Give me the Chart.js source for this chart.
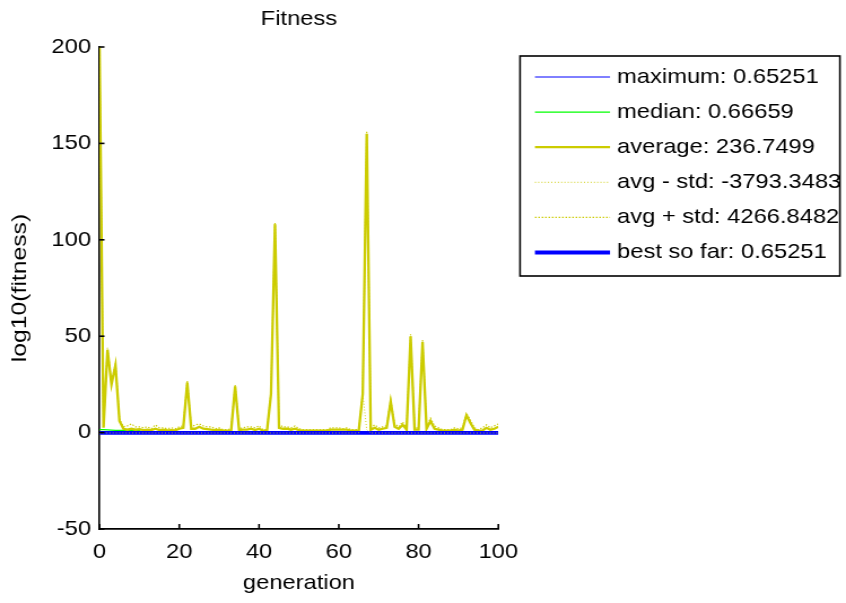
<!DOCTYPE html>
<html>
<head>
<meta charset="utf-8">
<script src="https://cdn.jsdelivr.net/npm/chart.js@4/dist/chart.umd.min.js"></script>
<style>
  html, body { margin: 0; padding: 0; background: #ffffff; }
  #wrap { width: 846px; height: 603px; overflow: hidden; position: relative; }
  #fitness { position: absolute; left: 0; top: 0; transform-origin: 0 0; }
</style>
</head>
<body>
<div id="wrap"><canvas id="fitness" width="749" height="603"></canvas></div>
<script>
// generation index (x axis)
const generations = Array.from({ length: 101 }, (_, i) => i);

// log10 of population statistics per generation
const average = [
  200, 2.5, 43, 25, 35, 6, 2, 1.5, 2, 1.5,
  1.8, 1.3, 1.5, 1.3, 2, 1.3, 1.5, 1.2, 1.3, 1.2,
  2, 2.5, 26, 2, 2, 3, 2, 1.8, 1.5, 1.3,
  1.5, 1, 1, 1, 24, 1.3, 1.5, 1.5, 2, 1.3,
  2, 1, 1, 20, 108, 2.5, 2, 2, 1.5, 2,
  1.3, 1, 1, 1, 1, 1, 1, 1, 1.5, 1.5,
  1.5, 1.5, 1.5, 1, 1, 1, 20, 155, 1.5, 2.5,
  1.5, 2, 2.5, 16, 3, 2, 4, 1.5, 50, 1.5,
  1.5, 47, 2, 6, 2, 1.5, 1, 1, 1, 1.5,
  1, 1.5, 9, 5, 1.5, 1, 1, 2.5, 1.5, 2,
  3
];

const avgPlusStd = [
  200, 3.5, 44, 26, 36, 7, 3, 3.5, 4.5, 3,
  3, 2.5, 3, 2, 4, 2.5, 2.5, 2, 2.5, 2,
  3, 3.5, 27, 3, 4, 4.5, 3.5, 3, 3, 2,
  2.5, 1.5, 1.5, 2, 25, 2, 2.5, 3, 3, 2.5,
  3.5, 1.5, 1.5, 21, 109, 4, 3, 3, 2.5, 3.5,
  2, 1.5, 1.5, 1.5, 1.5, 1.5, 1.5, 1.5, 2.5, 2.5,
  2.5, 2, 2.5, 1.5, 1.5, 1.5, 21, 156, 2.5, 4,
  2.5, 3, 3.5, 17, 4.5, 3, 5.5, 2.5, 51, 2.5,
  2.5, 48, 3, 7.5, 3.5, 2.5, 1.5, 1.5, 1.5, 2.5,
  2, 2.5, 10, 6.5, 2.5, 1.5, 2.5, 4, 2.5, 3.5,
  4.5
];

const avgMinusStd = [
  -0.2, -0.2, -0.2, -0.2, -0.2, -0.2, -0.2, -0.2, -0.2, -0.2,
  -0.2, -0.2, -0.2, -0.2, -0.2, -0.2, -0.2, -0.2, -0.2, -0.2,
  -0.2, -0.2, -0.2, -0.2, -0.2, -0.2, -0.2, -0.2, -0.2, -0.2,
  -0.2, -0.2, -0.2, -0.2, -0.2, -0.2, -0.2, -0.2, -0.2, -0.2,
  -0.2, -0.2, -0.2, -0.2, -0.2, -0.2, -0.2, -0.2, -0.2, -0.2,
  -0.2, -0.2, -0.2, -0.2, -0.2, -0.2, -0.2, -0.2, -0.2, -0.2,
  -0.2, -0.2, -0.2, -0.2, -0.2, -0.2, 20, 1.5, -0.2, -0.2,
  -0.2, -0.2, -0.2, -0.2, -0.2, -0.2, -0.2, -0.2, -0.2, -0.2,
  -0.2, -0.2, -0.2, -0.2, -0.2, -0.2, -0.2, -0.2, -0.2, -0.2,
  -0.2, -0.2, -0.2, -0.2, -0.2, -0.2, -0.2, -0.2, -0.2, -0.2,
  -0.2
];

const median = [
  1.5, 1.5, 1.4, 1.3, 1.2, 1.2, 1.1, 1.1, 1.0, 1.0,
  1.0, -0.176, -0.176, -0.176, -0.176, -0.176, -0.176, -0.176, -0.176, -0.176,
  -0.176, -0.176, -0.176, -0.176, -0.176, -0.176, -0.176, -0.176, -0.176, -0.176,
  -0.176, -0.176, -0.176, -0.176, -0.176, -0.176, -0.176, -0.176, -0.176, -0.176,
  -0.176, -0.176, -0.176, -0.176, -0.176, -0.176, -0.176, -0.176, -0.176, -0.176,
  -0.176, -0.176, -0.176, -0.176, -0.176, -0.176, -0.176, -0.176, -0.176, -0.176,
  -0.176, -0.176, -0.176, -0.176, -0.176, -0.176, -0.176, -0.176, -0.176, -0.176,
  -0.176, -0.176, -0.176, -0.176, -0.176, -0.176, -0.176, -0.176, -0.176, -0.176,
  -0.176, -0.176, -0.176, -0.176, -0.176, -0.176, -0.176, -0.176, -0.176, -0.176,
  -0.176, -0.176, -0.176, -0.176, -0.176, -0.176, -0.176, -0.176, -0.176, -0.176,
  -0.176
];

// best individual stays at fitness 0.65251 -> log10 = -0.1854
const BEST_LOG = -0.1854;
const maximum = new Array(101).fill(BEST_LOG);
const bestSoFar = new Array(101).fill(BEST_LOG);

const legendLabels = [
  'maximum: 0.65251',
  'median: 0.66659',
  'average: 236.7499',
  'avg - std: -3793.3483',
  'avg + std: 4266.8482',
  'best so far: 0.65251'
];

const xTicks = [0, 20, 40, 60, 80, 100];
const yTicks = [-50, 0, 50, 100, 150, 200];
const yAxisTitle = 'log10(fitness)';

const FONT = '"Liberation Sans", Arial, Helvetica, sans-serif';
const FS = 21;
const STRETCH = 846 / 749;   // horizontal stretch of the whole figure
document.getElementById('fitness').style.transform = 'scaleX(' + STRETCH + ')';

const YELLOW = 'rgb(204,204,0)';
const BLUE = 'rgb(0,0,255)';
const DOTS = [0.9, 2.0];
const pts = arr => arr.map((v, i) => ({ x: generations[i], y: v }));

// higher "order" is painted first (further back)
const datasets = [
  { label: legendLabels[0], data: pts(maximum), borderColor: BLUE, borderWidth: 1, order: 3 },
  { label: legendLabels[1], data: pts(median), borderColor: 'rgb(0,255,0)', borderWidth: 1.3, order: 6 },
  { label: legendLabels[2], data: pts(average), borderColor: YELLOW, borderWidth: 2.3, order: 5 },
  { label: legendLabels[3], data: pts(avgMinusStd), borderColor: YELLOW, borderWidth: 1, borderDash: DOTS, order: 1 },
  { label: legendLabels[4], data: pts(avgPlusStd), borderColor: YELLOW, borderWidth: 1.2, borderDash: [1.4, 1.6], order: 4 },
  { label: legendLabels[5], data: pts(bestSoFar), borderColor: BLUE, borderWidth: 3.8, order: 2 }
];
datasets.forEach(d => { d.pointRadius = 0; d.fill = false; d.tension = 0; });

// inward tick marks on the left and bottom axes (box off style), plus the y axis title
const axisDecor = {
  id: 'axisDecor',
  afterDraw(chart) {
    const { ctx, chartArea } = chart;
    const xs = chart.scales.x, ys = chart.scales.y;
    ctx.save();
    ctx.strokeStyle = '#000';
    ctx.lineWidth = 1.6;
    xTicks.forEach(v => {
      const px = xs.getPixelForValue(v);
      ctx.beginPath();
      ctx.moveTo(px, chartArea.bottom);
      ctx.lineTo(px, chartArea.bottom - 5);
      ctx.stroke();
    });
    yTicks.forEach(v => {
      const py = ys.getPixelForValue(v);
      ctx.beginPath();
      ctx.moveTo(chartArea.left, py);
      ctx.lineTo(chartArea.left + 4.4, py);
      ctx.stroke();
    });
    // rotated y axis title, a little wider along its run than the tick text
    ctx.translate(17.7, (chartArea.top + chartArea.bottom) / 2);
    ctx.rotate(-Math.PI / 2);
    ctx.scale(1.3, 1);
    ctx.font = '19px ' + FONT;
    ctx.fillStyle = '#000';
    ctx.textAlign = 'center';
    ctx.textBaseline = 'middle';
    ctx.fillText(yAxisTitle, 0, 0);
    ctx.restore();
  }
};

// boxed legend on the right
const boxedLegend = {
  id: 'boxedLegend',
  afterDraw(chart) {
    const { ctx } = chart;
    const left = 460.4, right = 743.6, top = 56, bottom = 276;
    const lineX0 = 473.6, lineX1 = 540.1, textX = 546.3;
    const rowY0 = 77, rowStep = 35.1;
    ctx.save();
    ctx.fillStyle = '#fff';
    ctx.fillRect(left, top, right - left, bottom - top);
    ctx.strokeStyle = '#000';
    ctx.lineWidth = 1.6;
    ctx.strokeRect(left, top, right - left, bottom - top);
    ctx.font = FS + 'px ' + FONT;
    ctx.textBaseline = 'middle';
    ctx.textAlign = 'left';
    chart.data.datasets.forEach((ds, i) => {
      const y = rowY0 + i * rowStep;
      ctx.strokeStyle = ds.borderColor;
      ctx.lineWidth = ds.borderWidth;
      ctx.setLineDash(ds.borderDash || []);
      ctx.beginPath();
      ctx.moveTo(lineX0, y);
      ctx.lineTo(lineX1, y);
      ctx.stroke();
      ctx.setLineDash([]);
      ctx.fillStyle = '#000';
      ctx.fillText(ds.label, textX, y);
    });
    ctx.restore();
  }
};

new Chart(document.getElementById('fitness'), {
  type: 'line',
  data: { datasets },
  options: {
    responsive: false,
    animation: false,
    devicePixelRatio: 1,
    layout: { padding: { left: 0, top: 0, right: 307.8, bottom: 0 } },
    plugins: {
      legend: { display: false },
      tooltip: { enabled: false },
      title: {
        display: true,
        fullSize: false,
        text: 'Fitness',
        color: '#000',
        font: { family: FONT, size: FS, weight: 'normal' },
        padding: { top: 6.4, bottom: 15.4 }
      }
    },
    scales: {
      x: {
        type: 'linear',
        min: 0,
        max: 100,
        grid: { display: false, drawTicks: false },
        border: { display: true, color: '#000', width: 1.8 },
        ticks: {
          stepSize: 20,
          padding: 11,
          color: '#000',
          font: { family: FONT, size: FS },
          maxRotation: 0
        },
        title: {
          display: true,
          text: 'generation',
          color: '#000',
          font: { family: FONT, size: FS },
          padding: { top: 0, bottom: 7.4 }
        },
        afterFit(scale) { scale.height = 74; }
      },
      y: {
        type: 'linear',
        min: -50,
        max: 200,
        grid: { display: false, drawTicks: false },
        border: { display: true, color: '#000', width: 1.6 },
        ticks: {
          stepSize: 50,
          padding: 7.5,
          color: '#000',
          font: { family: FONT, size: FS }
        },
        title: { display: false },
        afterFit(scale) { scale.width = 88.1; }
      }
    }
  },
  plugins: [axisDecor, boxedLegend]
});
</script>
</body>
</html>
